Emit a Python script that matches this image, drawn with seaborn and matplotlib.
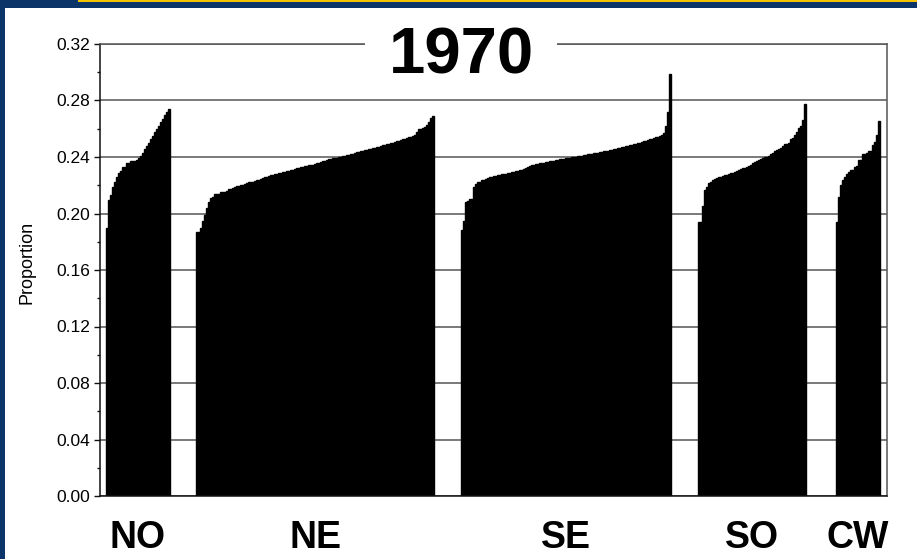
import numpy as np
import pandas as pd
import matplotlib
matplotlib.use("Agg")
import matplotlib.pyplot as plt
from matplotlib.patches import Rectangle
from matplotlib.ticker import MultipleLocator
import seaborn as sns

# ---------------- data (sorted proportions per region) ----------------
regions = ["NO", "NE", "SE", "SO", "CW"]
title_text = "1970"
y_label = "Proportion"
y_ticks = [0.00, 0.04, 0.08, 0.12, 0.16, 0.20, 0.24, 0.28, 0.32]

no_vals = [0.190, 0.2096, 0.213, 0.219, 0.2225, 0.226, 0.229, 0.230, 0.233, 0.233,
           0.2356, 0.2356, 0.237, 0.237, 0.2375, 0.238, 0.239, 0.241, 0.243, 0.246,
           0.248, 0.250, 0.253, 0.255, 0.258, 0.260, 0.262, 0.265, 0.267, 0.270,
           0.272, 0.274]

ne_vals = [0.187, 0.187, 0.190, 0.195, 0.199, 0.204, 0.2084, 0.211, 0.212, 0.2136,
           0.2136, 0.214, 0.215, 0.215, 0.2155, 0.216, 0.2173, 0.2175, 0.218, 0.219,
           0.2197, 0.2197, 0.220, 0.2205, 0.221, 0.2216, 0.222, 0.2222, 0.2225, 0.223,
           0.2235, 0.224, 0.2244, 0.225, 0.2255, 0.226, 0.2265, 0.227, 0.2273, 0.2278,
           0.228, 0.2285, 0.229, 0.2293, 0.2296, 0.230, 0.2303, 0.2306, 0.231, 0.2315,
           0.232, 0.2323, 0.2326, 0.233, 0.2333, 0.2337, 0.234, 0.2343, 0.2346, 0.235,
           0.2355, 0.236, 0.2365, 0.237, 0.2375, 0.238, 0.2383, 0.2386, 0.239, 0.2393,
           0.2396, 0.240, 0.2403, 0.2406, 0.241, 0.2413, 0.2416, 0.242, 0.2424, 0.2428,
           0.2432, 0.2436, 0.244, 0.2444, 0.2448, 0.2452, 0.2456, 0.246, 0.2463, 0.2466,
           0.247, 0.2474, 0.2478, 0.2482, 0.2486, 0.249, 0.2494, 0.2498, 0.250, 0.2505,
           0.251, 0.2515, 0.252, 0.2525, 0.253, 0.2535, 0.254, 0.2545, 0.255, 0.2556,
           0.258, 0.2598, 0.260, 0.2605, 0.2615, 0.2625, 0.2645, 0.2674, 0.269]

se_vals = [0.188, 0.195, 0.2084, 0.209, 0.2103, 0.2103, 0.219, 0.221, 0.222, 0.2225,
           0.2235, 0.224, 0.2245, 0.2249, 0.2255, 0.226, 0.2263, 0.2266, 0.227, 0.2273,
           0.2278, 0.228, 0.2283, 0.2286, 0.229, 0.2293, 0.2296, 0.230, 0.2303, 0.2306,
           0.231, 0.2318, 0.2325, 0.233, 0.2335, 0.234, 0.2343, 0.2348, 0.235, 0.2355,
           0.2358, 0.236, 0.2363, 0.2366, 0.237, 0.2372, 0.2375, 0.2378, 0.238, 0.2383,
           0.2386, 0.2388, 0.239, 0.2393, 0.2396, 0.2398, 0.240, 0.2403, 0.2406, 0.2408,
           0.241, 0.2413, 0.2415, 0.2418, 0.242, 0.2422, 0.2425, 0.2428, 0.243, 0.2433,
           0.2436, 0.2439, 0.2442, 0.2445, 0.2448, 0.2451, 0.2455, 0.2459, 0.2463, 0.2467,
           0.247, 0.2473, 0.2476, 0.248, 0.2483, 0.2487, 0.249, 0.2494, 0.2497, 0.250,
           0.2505, 0.251, 0.2515, 0.252, 0.2525, 0.253, 0.2535, 0.254, 0.2545, 0.255,
           0.2555, 0.257, 0.262, 0.272, 0.299]

so_vals = [0.194, 0.194, 0.205, 0.2166, 0.219, 0.2214, 0.2225, 0.2235, 0.2245, 0.2249,
           0.2255, 0.226, 0.2265, 0.227, 0.2273, 0.228, 0.2285, 0.229, 0.2296, 0.230,
           0.2308, 0.2315, 0.232, 0.2325, 0.233, 0.2335, 0.2345, 0.2355, 0.2365, 0.2372,
           0.2379, 0.2385, 0.239, 0.2398, 0.2402, 0.241, 0.2418, 0.2428, 0.244, 0.245,
           0.2458, 0.2465, 0.2475, 0.249, 0.2495, 0.250, 0.2525, 0.2537, 0.2555, 0.258,
           0.2603, 0.262, 0.2662, 0.2773]

cw_vals = [0.194, 0.212, 0.2202, 0.224, 0.226, 0.228, 0.2295, 0.2308, 0.231, 0.2331,
           0.2335, 0.2379, 0.238, 0.2419, 0.2419, 0.2425, 0.2442, 0.2445, 0.2485, 0.2505,
           0.2556, 0.2655]

group_values = [no_vals, ne_vals, se_vals, so_vals, cw_vals]

# ---------------- layout (positions only) ----------------
lead_gap = 3.0
gaps = [13.0, 13.5, 13.5, 15.0]
right_pad = 3.5

rows = []
centers = []
start = lead_gap
for gi, (reg, vals) in enumerate(zip(regions, group_values)):
    n = len(vals)
    for i, v in enumerate(vals):
        rows.append({"region": reg, "pos": start + i + 0.5, "value": v})
    centers.append(start + n / 2.0)
    start += n
    if gi < len(gaps):
        start += gaps[gi]
x_max = start + right_pad
df = pd.DataFrame(rows)

# ---------------- figure ----------------
sns.set_theme(style="white")
plt.rcParams["font.family"] = ["Liberation Sans", "DejaVu Sans"]
plt.rcParams["text.color"] = "black"
plt.rcParams["xtick.color"] = "black"
plt.rcParams["ytick.color"] = "black"

W, H = 917, 559
fig = plt.figure(figsize=(W / 100, H / 100), dpi=100, facecolor="white")

navy = "#0b3468"
yellow = "#f2c200"
fig.patches.append(Rectangle((0, 0), 4.5 / W, 1, transform=fig.transFigure,
                             facecolor=navy, edgecolor="none", zorder=0))
fig.patches.append(Rectangle((0, 1 - 7.5 / H), 1, 7.5 / H, transform=fig.transFigure,
                             facecolor=navy, edgecolor="none", zorder=0))
fig.patches.append(Rectangle((78 / W, 1 - 1.8 / H), 1 - 78 / W, 1.8 / H,
                             transform=fig.transFigure, facecolor=yellow,
                             edgecolor="none", zorder=1))

ax_l, ax_r, ax_t, ax_b = 100, 887, 44, 496
ax = fig.add_axes([ax_l / W, (H - ax_b) / H, (ax_r - ax_l) / W, (ax_b - ax_t) / H])
ax.set_facecolor("white")

sns.barplot(data=df, x="pos", y="value", native_scale=True, width=1.0,
            color="black", saturation=1, errorbar=None,
            edgecolor="black", linewidth=1.0, ax=ax)

ax.set_xlim(0, x_max)
ax.set_ylim(0, 0.32)

ax.set_yticks(y_ticks)
ax.set_yticklabels([f"{t:.2f}" for t in y_ticks], fontsize=12.5, color="black")
ax.yaxis.set_minor_locator(MultipleLocator(0.02))
ax.tick_params(axis="y", which="major", direction="out", length=4, width=1,
               color="#111111", pad=3, left=True, labelcolor="black")
ax.tick_params(axis="y", which="minor", direction="out", length=2.5, width=1,
               color="#111111", left=True)

ax.set_xticks(centers)
ax.set_xticklabels(regions, fontsize=27, fontweight="bold", color="black")
ax.tick_params(axis="x", which="both", length=0, pad=17, bottom=False,
               labelcolor="black")
ax.set_xlabel("")
ax.set_ylabel("")

ax.yaxis.grid(True, which="major", color="#555555", linewidth=1.1)
ax.xaxis.grid(False)
ax.set_axisbelow(True)

for side, col in [("left", "#111111"), ("bottom", "#111111"),
                  ("top", "#555555"), ("right", "#555555")]:
    ax.spines[side].set_visible(True)
    ax.spines[side].set_color(col)
    ax.spines[side].set_linewidth(1.1)

# gap in top frame for the title
gx0 = (365 - ax_l) / (ax_r - ax_l)
gx1 = (557 - ax_l) / (ax_r - ax_l)
ax.add_patch(Rectangle((gx0, 0.975), gx1 - gx0, 0.05, transform=ax.transAxes,
                       facecolor="white", edgecolor="none", zorder=4, clip_on=False))
ax.text((461 - ax_l) / (ax_r - ax_l), (ax_b - 74) / (ax_b - ax_t), title_text,
        transform=ax.transAxes, ha="center", va="baseline", fontsize=47,
        fontweight="bold", color="black", zorder=5, clip_on=False)

fig.text(27 / W, (H - 262) / H, y_label, rotation=90, ha="center", va="center",
         fontsize=13, color="black")

fig.savefig("out.png", dpi=100, facecolor="white")
